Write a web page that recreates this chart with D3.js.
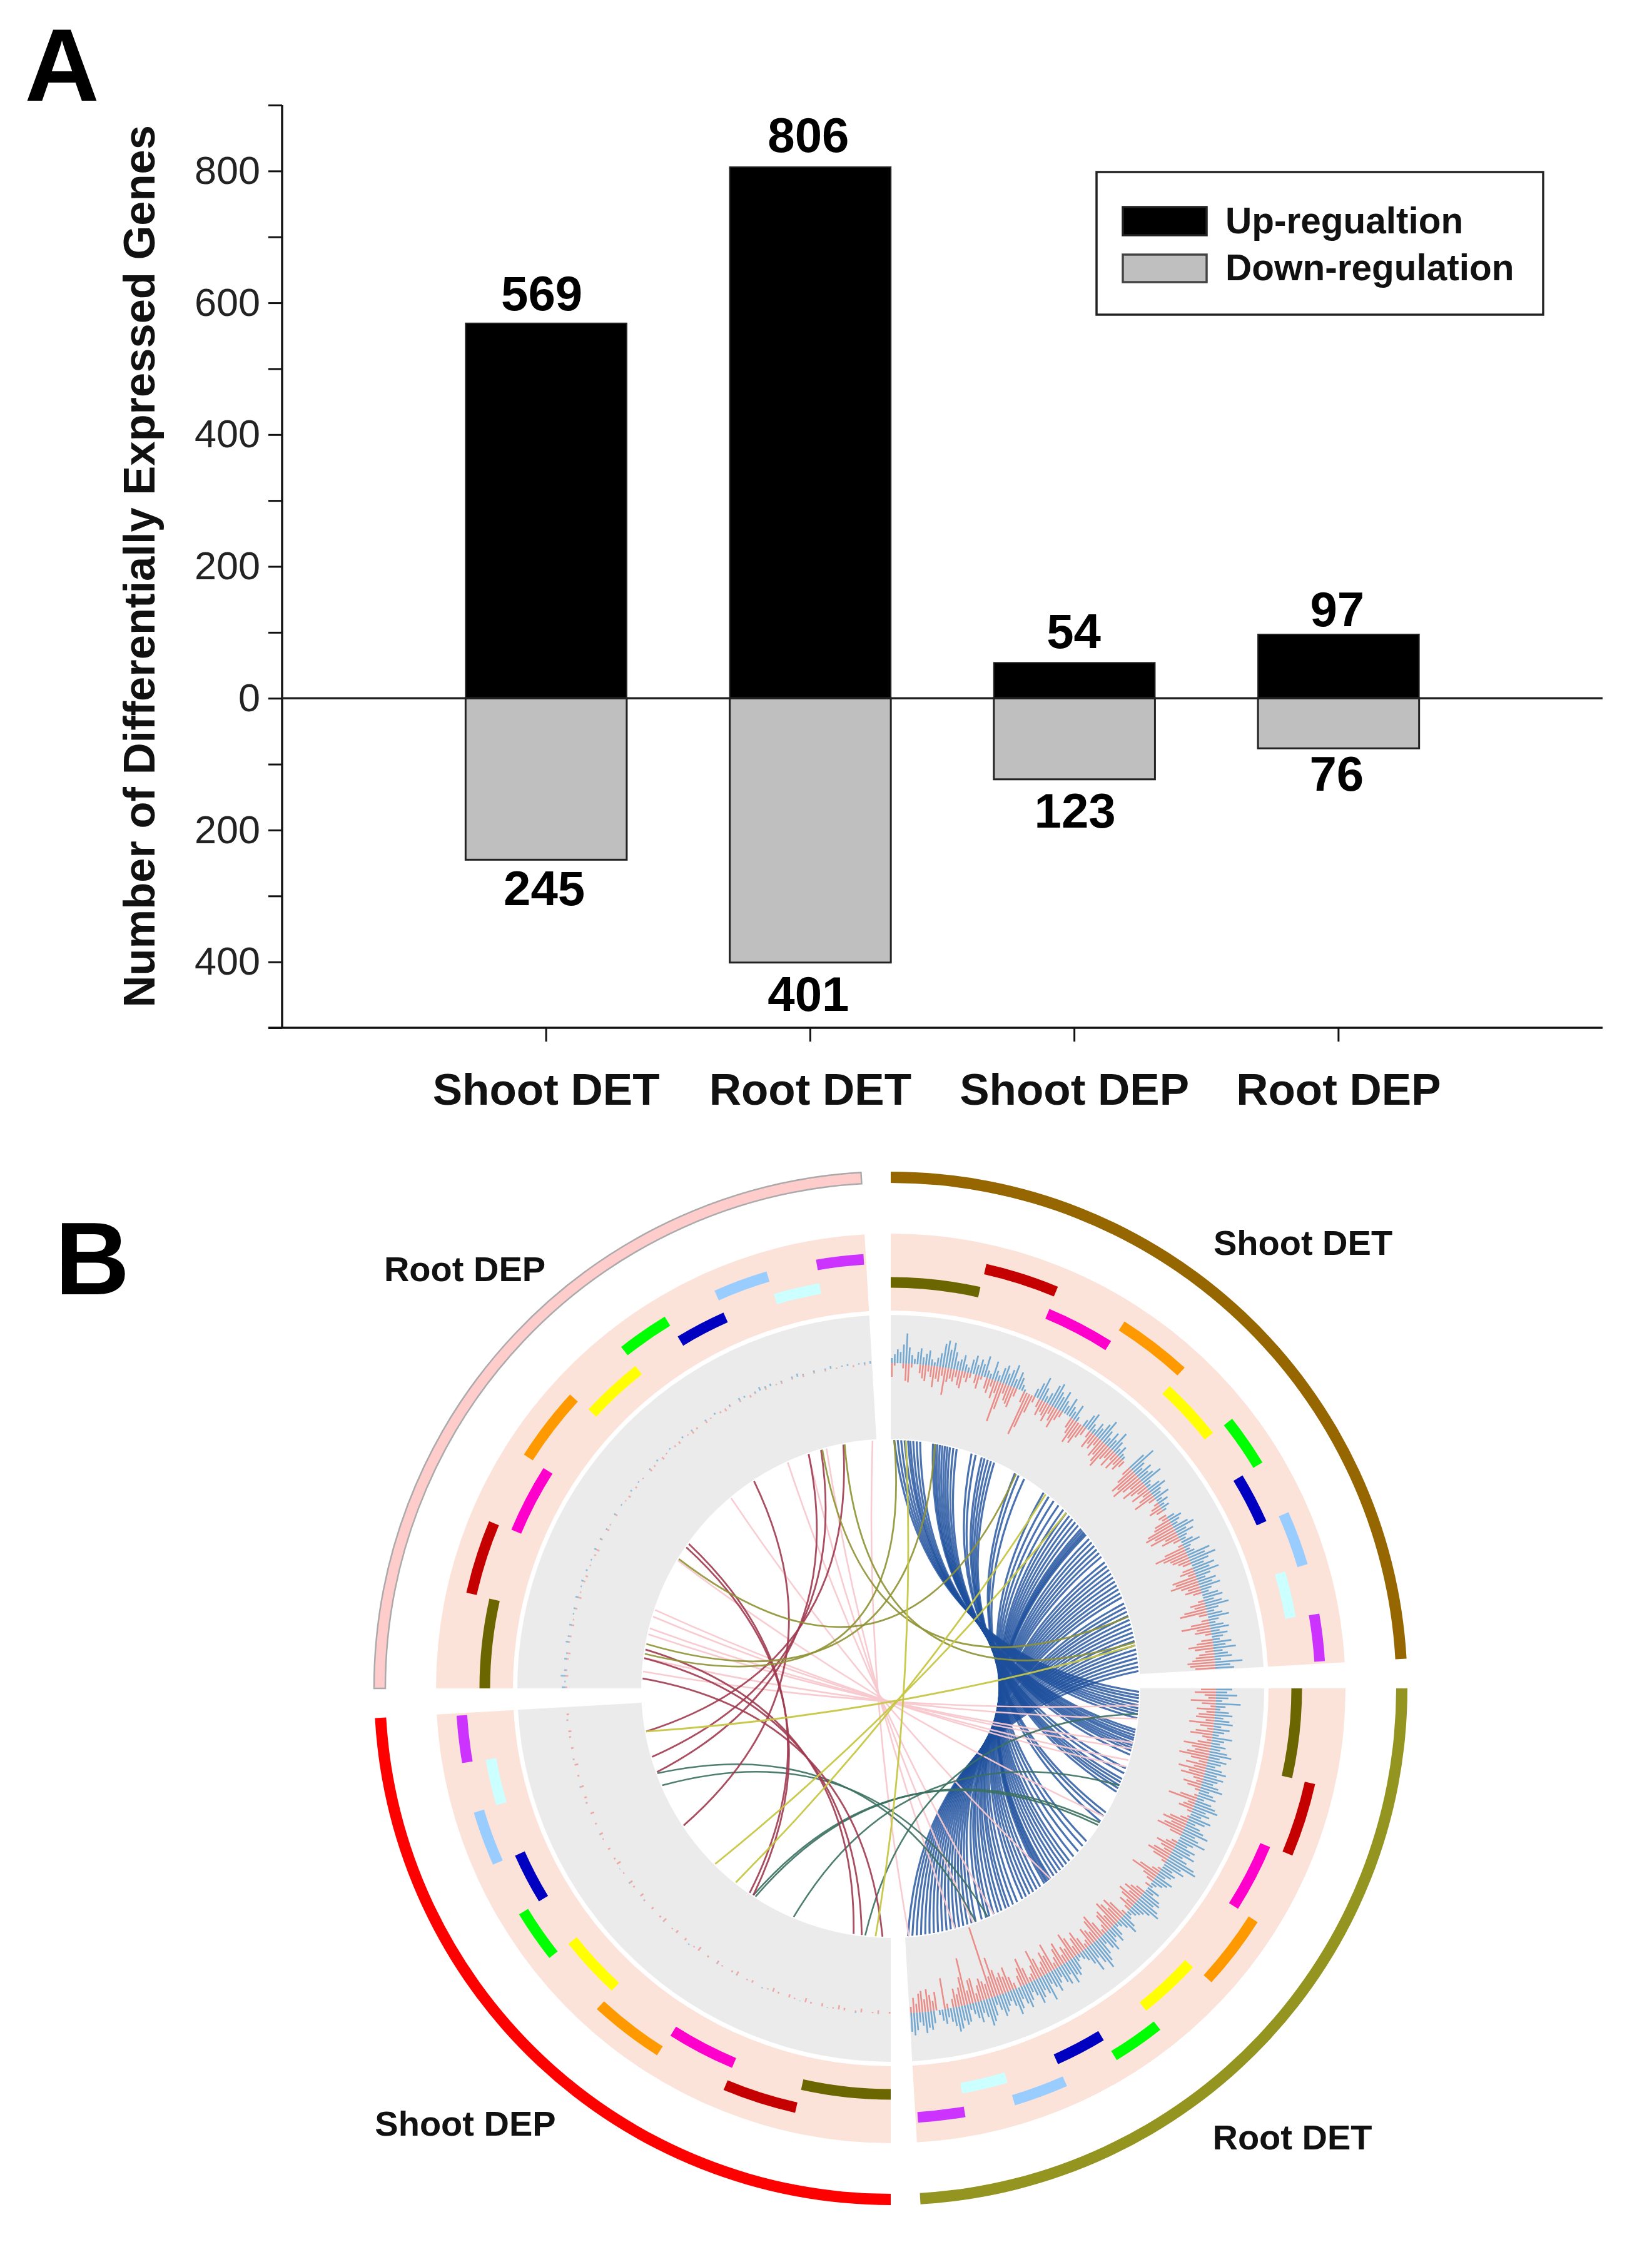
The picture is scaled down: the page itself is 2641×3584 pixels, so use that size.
<!DOCTYPE html>
<html>
<head>
<meta charset="utf-8">
<script src="https://cdn.jsdelivr.net/npm/d3@7/dist/d3.min.js"></script>
<style>html,body{margin:0;padding:0;background:#fff}svg{display:block;font-family:"Liberation Sans",Arial,sans-serif}</style>
</head>
<body>
<svg id="chart" width="2641" height="3584" viewBox="0 0 2641 3584"></svg>
<script>
// ---------- Panel A data ----------
const groups = ["Shoot DET", "Root DET", "Shoot DEP", "Root DEP"];
const upValues = [569, 806, 54, 97];
const downValues = [245, 401, 123, 76];
const majorTicks = [-400, -200, 0, 200, 400, 600, 800];
const allTicks = [-500,-400,-300,-200,-100,0,100,200,300,400,500,600,700,800,900];
const legendLabels = ["Up-regualtion", "Down-regulation"];

// ---------- Panel B data ----------
const quadrantNames = ["Shoot DET", "Root DET", "Shoot DEP", "Root DEP"];
const quadrantStart = [0, 90, 180, 270];
const quadrantColor = ["#966600", "#949420", "#ff0000", "#ffcccc"];
const segmentStart = [0, 12.7, 22.7, 32.5, 42.7, 51.7, 58.8, 66.1, 73.5, 80.1];
const segmentEnd = [12.6, 22.6, 32.4, 42.5, 51.6, 58.7, 66, 73.4, 80, 86.4];
const segmentColor = ["#6b6600", "#c40000", "#ff00cc", "#ff9900", "#ffff00", "#00ff00", "#0000c0", "#99ccff", "#ccffff", "#cc33ff"];
const segmentTier = [0, 1, 0, 1, 0, 1, 0, 1, 0, 1];

const shootDetUp = [8,14,22,18,30,48,26,14,8,20, 26,12,18,24,10,6,14,22,38,44, 30,42,28,14,18,26,12,8,22,30, 16,26,20,34,12,8,30,16,10,24, 30,18,26,36,14,28,20,10,4,0, 0,0,14,26,38,22,10,18,34,40, 28,22,34,20,14,30,18,12,26,8, 0,0,12,24,30,14,8,22,16,28, 38,22,12,26,16,34,20,10,18,8, 6,0,0,0,30,46,22,14,28,18, 24,36,12,8,22,30,18,14,26,10, 18,8,14,6,0,0,12,22,16,10, 26,34,18,28,14,10,20,30,12,8, 14,38,28,44,30,20,36,26,40,24, 14,30,22,34,18,12,26,32,16,28, 38,20,12,24,34,16,10,22,30,14, 26,18,12,30,20,36,14,22,28,10, 44,24,30];
const shootDetDown = [22,4,0,0,8,28,30,6,0,0, 14,22,26,10,18,34,20,24,14,44, 22,16,20,12,24,28,10,16,8,0, 14,22,6,0,18,24,12,30,20,66, 44,16,26,30,34,14,0,0,18,72, 58,30,10,0,14,26,18,22,30,14, 24,34,18,10,0,0,0,18,26,40, 30,36,22,14,0,12,28,18,24,14, 32,26,36,42,24,18,30,14,28,16, 22,12,0,0,16,30,46,38,50,34, 22,40,28,18,32,14,24,36,12,0, 8,16,22,12,0,14,10,26,30,44, 50,36,46,22,30,12,0,8,34,52, 40,30,28,20,14,0,18,24,12,40, 36,46,30,20,26,14,0,0,10,24, 18,36,44,14,0,12,30,46,22,26, 10,0,18,26,40,30,14,24,30,36, 44,40,32];
const rootDetUp = [26,18,34,20,10,40,16,8,22,28, 14,24,30,12,26,18,10,32,20,14, 24,16,28,36,18,30,22,14,26,34, 20,32,24,18,28,36,16,24,30,12, 26,34,40,22,30,18,36,28,14,24, 32,42,22,30,44,26,18,34,28,38, 20,30,46,52,28,36,18,26,22,14, 30,24,18,10,6,22,14,30,34,26, 38,44,30,22,18,14,8,12,24,32, 18,10,6,20,28,16,22,34,26,14, 30,40,50,36,24,44,28,18,12,6, 10,22,30,26,38,20,34,28,16,24, 36,26,18,44,30,22,32,40,24,16, 28,38,30,20,34,42,26,16,22,30, 36,24,14,30,38,44,28,20,34,26, 18,10,28,32,24,36,40,30,22,14, 24,18,8,0,20,30,26,34,22,16,28,36,30];
const rootDetDown = [24,34,18,12,40,22,8,30,14,26, 30,14,40,22,10,28,36,16,8,22, 44,30,24,36,48,28,14,34,20,44, 26,38,16,10,30,22,8,0,6,28, 46,12,18,24,8,0,4,14,30,40, 24,34,44,20,0,0,10,18,32,22, 14,30,38,26,8,0,0,6,14,34, 46,22,12,0,8,0,0,16,24,32, 20,36,28,14,24,10,0,8,30,40, 26,38,44,22,34,30,14,8,26,42, 36,18,24,30,12,8,22,36,28,16, 34,44,20,26,14,38,30,18,10,46, 28,36,22,14,32,48,24,12,8,26, 44,30,18,0,10,22,40,26,34,28, 42,64,34,118,24,30,36,26,14,40, 38,22,76,46,30,20,30,14,0,8, 50,0,0,30,16,26,36,20,34,30,14,24,10];
const shootDepUp = [0,0,1,0,0,0,2,0,0,0, 0,1,0,0,0,0,1,0,0,0, 0,0,0,2,0,0,0,0,1,0, 0,0,1,0,0,0,0,0,2,0, 0,0,0,0,1,0,0,0,0,1, 0,0,0,2,0,0,1,0,0,0, 0,0,0,1,0,0,0,0,0,1, 0,0,2,0,0,0,0,1,0,0, 0,0,0,0,1,0,0];
const shootDepDown = [3,0,5,2,0,6,2,0,4,7, 2,0,5,0,3,7,0,2,5,0, 3,6,2,0,0,4,2,0,6,3, 0,2,5,0,3,0,7,2,0,4, 0,5,2,0,6,3,0,4,0,2, 6,0,3,5,0,2,0,7,3,0, 4,0,2,5,0,3,0,6,0,2, 4,0,5,0,3,0,6,2,0,4, 0,3,5,0,2,4,0];
const rootDepUp = [6,2,8,3,0,4,2,0,5,3, 0,4,0,2,3,0,5,0,2,4, 0,3,0,2,0,4,0,3,0,2, 0,0,3,0,2,0,0,3,0,2, 0,0,2,0,3,0,0,2,0,0, 3,0,2,0,0,2,0,3,0,0, 2,0,4,3,0,2,6,3,4,0, 2,0,3,5,2,0,3,0,2,4, 0,2,3,0,2,3,4];
const rootDepDown = [3,0,4,2,0,3,5,0,2,3, 0,4,2,0,3,0,5,2,0,3, 4,0,2,0,3,5,0,2,0,4, 2,0,3,0,0,2,4,0,3,0, 2,0,4,3,0,5,2,0,3,4, 0,2,5,3,0,4,2,0,3,5, 2,0,3,0,4,2,0,3,0,2, 3,0,2,0,3,0,2,0,3,0, 2,0,0,3,0,2,0];

const blueFrom = [0.8,1.6,2.4,3.2,4,4.5,5.2,6,6.8, 9.8,10.3,10.8,11.4,12,12.6,13.2,13.8,14.6,15.4, 19,20,21.5,22.2,23,23.8,24.6, 30,31,32.5, 38,39.5,41,42.5,44,45,46,47,48,49,50,50.5,51,51.4,51.8, 53,54,55,56,57,58,59.5,60.5,61.5,62.5,63.5,64.5,65.5,66.5,67.5,68.5,70,71,72,73,74,75,76,77,78,79,80,81,82,83,84,85,86];
const blueTo = [90.8,91.6,92.3,93.1,93.9,94.6,95.3,96,96.9, 99.6,100.2,100.9,101.5,102,102.7,103.3,103.9,104.5,105.5, 108.8,110,111.4,112.2,113,113.7,114.6, 120,121,122.4, 128,129.4,131,132.6,134,135,136,137,138,139,140,140.4,140.9,141.3,141.8, 143,144,145,146,147,148,149.4,150.5,151.6,152.4,153.5,154.4,155.5,156.6,157.4,158.5,160,161,162,163,164,165,166,167,168,169,170,171,172,173,174,175,176];
const redFrom = [304.6,305.6,326.6,340.7,343.7,349,279,277,272.3];
const redTo = [213.6,214.6,236.5,250.3,254,260,188.6,186.7,181.9];
const greenFrom = [95.9,113,122.7,123.4,157,160];
const greenTo = [185.9,203,213,213.6,247,250];
const olivePairsFrom = [30.3,10.3,0.8,73.2,79.3];
const olivePairsTo = [301.4,280.3,278,344,349.3];
const yellowFrom = [80,45,38.6,3.5];
const yellowTo = [260,225,218.6,183.5];
const pinkFrom = [273.9,277,282.6,284,286.8,288.4,301,320,335.5,340.6,345,355.8];
const pinkTo = [93.9,97,102.6,104,106.8,108.4,121,140,155.5,160.6,165,175.8];

// ---------- Layout ----------
const svg = d3.select("#chart");
const font = '"Liberation Sans",Arial,sans-serif';
const plotLeft = 451, plotRight = 2562, plotTop = 168, plotBottom = 1643;
const upLabelGap = [21, 24, 23, 13];
const downLabelGap = [73, 77, 77, 68];
const upLabelShift = [-4, 0, 2, 1];
const downLabelShift = [0, 0, 4, 0];

const y = d3.scaleLinear().domain([-500, 900]).range([plotBottom, plotTop]);
const x = d3.scaleBand().domain(groups).range([662, 2351]).paddingInner(0.39).paddingOuter(0.195);

const panelA = svg.append("g");
panelA.append("text").text("A").attr("x", 99).attr("y", 161).attr("text-anchor", "middle")
  .attr("font-weight", "bold").attr("font-size", 165).attr("fill", "#000");

const xc = d => x(d) + x.bandwidth() / 2;
panelA.selectAll(".up").data(groups).join("rect").attr("class", "up")
  .attr("x", d => x(d)).attr("width", x.bandwidth())
  .attr("y", (d, i) => y(upValues[i])).attr("height", (d, i) => y(0) - y(upValues[i]))
  .attr("fill", "#000").attr("stroke", "#222").attr("stroke-width", 2);
panelA.selectAll(".down").data(groups).join("rect").attr("class", "down")
  .attr("x", d => x(d)).attr("width", x.bandwidth())
  .attr("y", y(0)).attr("height", (d, i) => y(-downValues[i]) - y(0))
  .attr("fill", "#bfbfbf").attr("stroke", "#222").attr("stroke-width", 3);

panelA.selectAll(".upLabel").data(groups).join("text").attr("class", "upLabel")
  .text((d, i) => upValues[i]).attr("x", (d, i) => xc(d) - 3 + upLabelShift[i]).attr("y", (d, i) => y(upValues[i]) - upLabelGap[i])
  .attr("text-anchor", "middle").attr("font-weight", "bold").attr("font-size", 78).attr("fill", "#000");
panelA.selectAll(".downLabel").data(groups).join("text").attr("class", "downLabel")
  .text((d, i) => downValues[i]).attr("x", (d, i) => xc(d) - 3 + downLabelShift[i]).attr("y", (d, i) => y(-downValues[i]) + downLabelGap[i])
  .attr("text-anchor", "middle").attr("font-weight", "bold").attr("font-size", 78).attr("fill", "#000");

const yAxis = d3.axisLeft(y).tickValues(allTicks).tickSize(22).tickPadding(13)
  .tickFormat(d => majorTicks.includes(d) ? Math.abs(d) : "");
const yg = panelA.append("g").attr("transform", `translate(${plotLeft},0)`).call(yAxis);
yg.select(".domain").attr("stroke", "#111").attr("stroke-width", 3.5).attr("d", `M0,${plotTop}V${plotBottom}`);
yg.selectAll(".tick line").attr("stroke", "#111").attr("stroke-width", 3);
yg.selectAll(".tick text").attr("font-family", font).attr("font-size", 63).attr("fill", "#222");

const xAxis = d3.axisBottom(x).tickSize(22).tickPadding(51);
const xg = panelA.append("g").attr("transform", `translate(0,${plotBottom})`).call(xAxis);
xg.select(".domain").remove();
xg.selectAll(".tick line").attr("stroke", "#111").attr("stroke-width", 3);
xg.selectAll(".tick text").attr("font-family", font).attr("font-weight", "bold").attr("font-size", 71).attr("fill", "#111");
panelA.append("line").attr("x1", plotLeft - 22).attr("x2", plotRight).attr("y1", plotBottom).attr("y2", plotBottom).attr("stroke", "#111").attr("stroke-width", 3.5);
panelA.append("line").attr("x1", plotLeft).attr("x2", plotRight).attr("y1", y(0)).attr("y2", y(0)).attr("stroke", "#222").attr("stroke-width", 3.5);

panelA.append("text").text("Number of Differentially Expressed Genes")
  .attr("transform", `translate(247,${y(0) - 211}) rotate(-90)`).attr("text-anchor", "middle")
  .attr("font-weight", "bold").attr("font-size", 70.5).attr("fill", "#111");

const legend = panelA.append("g");
legend.append("rect").attr("x", 1753).attr("y", 275).attr("width", 714).attr("height", 228)
  .attr("fill", "#fff").attr("stroke", "#222").attr("stroke-width", 3.5);
legendLabels.forEach((t, i) => {
  legend.append("rect").attr("x", 1795).attr("y", i ? 407 : 331).attr("width", 134).attr("height", i ? 44 : 45)
    .attr("fill", i ? "#bfbfbf" : "#000").attr("stroke", i ? "#444" : "#222").attr("stroke-width", 3.5);
  legend.append("text").text(t).attr("x", 1959).attr("y", i ? 448 : 373)
    .attr("font-weight", "bold").attr("font-size", 58.5).attr("fill", "#111");
});

// ---------- Panel B ----------
svg.append("text").text("B").attr("x", 88).attr("y", 2069).attr("font-weight", "bold").attr("font-size", 165).attr("fill", "#000");

const cx = 1424, cy = 2699;
const circos = svg.append("g").attr("transform", `translate(${cx},${cy})`);
const rad = d3.scaleLinear().domain([0, 360]).range([0, 2 * Math.PI]);
const quadrantSpan = 86.7;
const arc = d3.arc();

quadrantStart.forEach((q, i) => {
  const a0 = rad(q), a1 = rad(q + quadrantSpan);
  circos.append("path").attr("d", arc({innerRadius: 808, outerRadius: 826, startAngle: a0, endAngle: a1}))
    .attr("fill", quadrantColor[i]).attr("stroke", i === 3 ? "#aaa" : "none").attr("stroke-width", 2.5);
  circos.append("path").attr("d", arc({innerRadius: 604, outerRadius: 727, startAngle: a0, endAngle: a1})).attr("fill", "#fce3da");
  circos.append("path").attr("d", arc({innerRadius: 399, outerRadius: 597, startAngle: a0, endAngle: a1})).attr("fill", "#ebebeb");
  segmentColor.forEach((c, j) => {
    const r = segmentTier[j] ? 687 : 649;
    circos.append("path").attr("d", arc({innerRadius: r - 8.5, outerRadius: r + 8.5, startAngle: rad(q + segmentStart[j]), endAngle: rad(q + segmentEnd[j])})).attr("fill", c);
  });
});

// histogram spikes
const histBase = 520;
const spike = d3.scaleLinear().domain([0, 100]).range([0, 100]);
function spikes(values, q, dir, color, op) {
  const ang = d3.scaleLinear().domain([0, values.length - 1]).range([q + 0.2, q + 86.4]);
  const pth = d3.path();
  values.forEach((v, i) => {
    if (!v) return;
    const p0 = d3.pointRadial(rad(ang(i)), histBase);
    const p1 = d3.pointRadial(rad(ang(i)), histBase + dir * spike(v));
    pth.moveTo(p0[0], p0[1]); pth.lineTo(p1[0], p1[1]);
  });
  circos.append("path").attr("d", pth.toString()).attr("fill", "none").attr("stroke", color)
    .attr("stroke-width", 2.6).attr("stroke-opacity", op);
}
spikes(shootDetDown, 0, -1, "#ea5a55", 0.65);
spikes(shootDetUp, 0, 1, "#3f8cc4", 0.7);
spikes(rootDetDown, 90, -1, "#ea5a55", 0.65);
spikes(rootDetUp, 90, 1, "#3f8cc4", 0.7);
spikes(shootDepDown, 180, -1, "#ee7a76", 0.6);
spikes(shootDepUp, 180, 1, "#4f9acb", 0.5);
spikes(rootDepDown, 270, -1, "#ee7a76", 0.55);
spikes(rootDepUp, 270, 1, "#4f9acb", 0.6);

// links
function drawLinks(from, to, color, width, op) {
  const rLink = 397;
  from.forEach((a, i) => {
    const b = to[i];
    const diff = Math.abs(a - b);
    const mid = (a + b) / 2;
    const ctrl = Math.abs(diff - 180) < 25 ? 42 : 67;
    const A = d3.pointRadial(rad(a), rLink), B = d3.pointRadial(rad(b), rLink), C = d3.pointRadial(rad(mid), ctrl);
    const p = d3.path();
    p.moveTo(A[0], A[1]);
    p.quadraticCurveTo(C[0], C[1], B[0], B[1]);
    circos.append("path").attr("d", p.toString()).attr("fill", "none").attr("stroke", color)
      .attr("stroke-width", width).attr("stroke-opacity", op);
  });
}
drawLinks(blueFrom, blueTo, "#1d4f9c", 3.2, 0.8);
drawLinks(pinkFrom, pinkTo, "#f8c8cf", 2.6, 0.95);
drawLinks(greenFrom, greenTo, "#3b7060", 2.6, 0.9);
drawLinks(redFrom, redTo, "#a03a50", 2.8, 0.9);
drawLinks(olivePairsFrom, olivePairsTo, "#8f9233", 2.8, 0.9);
drawLinks(yellowFrom, yellowTo, "#c6c644", 2.8, 0.95);

// quadrant labels
const labelX = [2083, 2066, 744, 743];
const labelY = [1987, 3417, 3395, 2029];
quadrantNames.forEach((n, i) => {
  svg.append("text").text(n).attr("x", labelX[i]).attr("y", labelY[i] + 19).attr("text-anchor", "middle")
    .attr("font-weight", "bold").attr("font-size", 56).attr("fill", "#111");
});
</script>
</body>
</html>
